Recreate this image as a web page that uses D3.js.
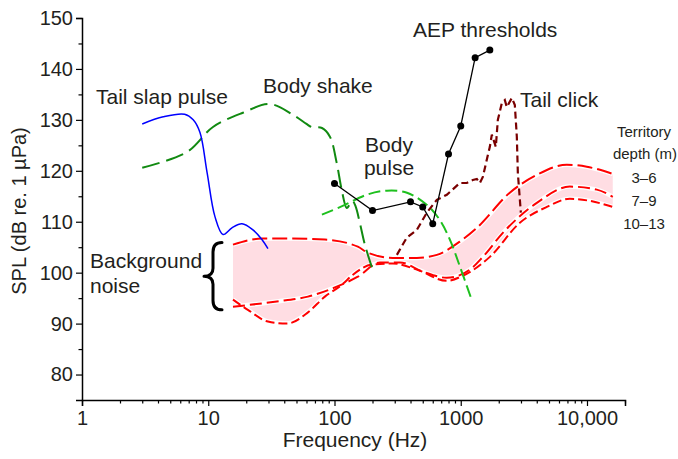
<!DOCTYPE html>
<html><head><meta charset="utf-8">
<script src="https://cdn.jsdelivr.net/npm/d3@7"></script>
<style>
body{margin:0;background:#fff}
svg{display:block}
text{font-family:"Liberation Sans",Arial,Helvetica,sans-serif;fill:#231f20}
</style></head>
<body><svg id="c" width="678" height="459"></svg>
<script>
// ---------- data ----------
const xMajor = [1, 10, 100, 1000, 10000];
const xMajorLabels = ["1", "10", "100", "1000", "10,000"];
const yMajor = [80, 90, 100, 110, 120, 130, 140, 150];

const tailSlap = [[3,129.2],[4.4,130.6],[6.5,131.1],[7.6,130.0],[8.6,127.5],[9.8,119.6],[11.3,111.0],[13.1,107.5],[15.4,108.8],[18.5,109.6],[22.6,108.4],[26.6,106.5],[29.7,104.7]];
const bodyShake = [[3,120.6],[6.8,123.7],[10.9,128.6],[18.8,131.4],[30.7,133.1],[46.9,131.0],[60,129.2],[66,128.6],[79.6,128.4],[92,126.7],[104,121.6],[114,116.3],[125,112.7],[132,113.4],[139,114.1],[147,113.0],[158,110.0],[174,105.5],[198,101.0]];
const bodyPulse = [[79.5,111.4],[116,113.1],[180,115.3],[260,116.1],[375,115.7],[540,113.3],[680,110.4],[820,106.5],[985,101.2],[1220,94.7]];
const tailClick = [[312,103.5],[374,106.9],[449,108.4],[539,111.8],[647,114.3],[776,115.3],[983,117.6],[1117,117.6],[1247,118.2],[1341,118.4],[1416,117.6],[1496,118.8],[1640,123.1],[1700,124.7],[1763,127.1],[1896,124.7],[1967,130.0],[2115,133.3],[2234,133.9],[2317,132.5],[2540,134.3],[2682,132.9],[2781,126.7],[2833,119.6],[2992,111.8]];
const aepFreq = [100, 200, 400, 500, 600, 800, 1000, 1300, 1700];
const aepSPL = [117.5, 112.2, 113.9, 112.9, 109.6, 123.3, 128.8, 142.2, 143.7];

const noise3to6 = [[15.7,105.5],[26.6,106.7],[46,106.7],[83.9,106.5],[153,105.1],[184,103.9],[290,102.9],[449,102.9],[647,103.5],[983,106.1],[1341,108.8],[2447,115.7],[4004,119.2],[6921,121.2],[9963,120.8],[16000,119.4]];
const noise7to9 = [[15.7,93.3],[33.7,94.3],[61.6,95.3],[100.7,97.1],[153,99.2],[229,102.0],[330,102.0],[501,100.2],[776,99.0],[1180,100.6],[1496,103.1],[2154,107.8],[4004,113.7],[7309,116.9],[11957,116.3],[16000,114.9]];
const noise10to13 = [[15.7,94.7],[20.6,92.7],[29.7,90.4],[42,90.0],[61.6,92.2],[83.9,95.3],[114,97.6],[140,99.6],[198,101.6],[290,101.8],[449,100.6],[776,98.4],[1039,99.4],[1700,103.1],[2938,109.8],[4805,112.9],[7309,114.5],[10525,114.1],[16000,112.9]];
const depthLabels = ["3\u20136", "7\u20139", "10\u201313"];

// ---------- scales ----------
const svg = d3.select("#c");
const x = d3.scaleLog().domain([1, 20000]).range([82, 625]);
const y = d3.scaleLinear().domain([75, 150]).range([400, 18]);

// ---------- noise band ----------
function interp(curve, f) {
  const lf = Math.log10(f);
  for (let i = 0; i < curve.length - 1; i++) {
    const a = Math.log10(curve[i][0]), b = Math.log10(curve[i+1][0]);
    if (lf >= a && lf <= b) {
      const t = (lf - a) / (b - a);
      return curve[i][1] + t * (curve[i+1][1] - curve[i][1]);
    }
  }
  return lf < Math.log10(curve[0][0]) ? curve[0][1] : curve[curve.length-1][1];
}
const curves = [noise3to6, noise7to9, noise10to13];
const fs = d3.range(0, 301).map(i => Math.pow(10, Math.log10(15.7) + i/300 * (Math.log10(16000) - Math.log10(15.7))));
const band = fs.map(f => {
  const v = curves.map(c => interp(c, f));
  return {f, lo: d3.min(v), hi: d3.max(v)};
});
svg.append("path").datum(band)
  .attr("d", d3.area().x(d => x(d.f)).y0(d => y(d.lo)).y1(d => y(d.hi)).curve(d3.curveMonotoneX))
  .attr("fill", "#ffdde3");

const line = d3.line().x(d => x(d[0])).y(d => y(d[1])).curve(d3.curveMonotoneX);
const smooth = d3.line().x(d => x(d[0])).y(d => y(d[1])).curve(d3.curveCatmullRom.alpha(0.5));

const dashes = ["15,5", "12,5", "9,4"];
curves.forEach((c, i) => {
  svg.append("path").datum(c).attr("d", line).attr("fill", "none")
    .attr("stroke", "#fff").attr("stroke-width", 4.5);
});
curves.forEach((c, i) => {
  svg.append("path").datum(c).attr("d", line).attr("fill", "none")
    .attr("stroke", "#ff0000").attr("stroke-width", 2).attr("stroke-dasharray", dashes[i]);
});

// ---------- other series ----------
svg.append("path").datum(bodyShake).attr("d", smooth).attr("fill", "none")
  .attr("stroke", "#118a11").attr("stroke-width", 2).attr("stroke-dasharray", "18,7");
svg.append("path").datum(bodyPulse).attr("d", smooth).attr("fill", "none")
  .attr("stroke", "#1ec01e").attr("stroke-width", 2).attr("stroke-dasharray", "12,5");
svg.append("path").datum(tailSlap).attr("d", smooth).attr("fill", "none")
  .attr("stroke", "#0000ff").attr("stroke-width", 1.5);
svg.append("path").datum(tailClick).attr("d", d3.line().x(d => x(d[0])).y(d => y(d[1]))).attr("fill", "none")
  .attr("stroke", "#7a0000").attr("stroke-width", 2.2).attr("stroke-dasharray", "7,4");

const aep = aepFreq.map((f, i) => [f, aepSPL[i]]);
svg.append("path").datum(aep).attr("d", d3.line().x(d => x(d[0])).y(d => y(d[1]))).attr("fill", "none")
  .attr("stroke", "#000").attr("stroke-width", 1.3);
svg.selectAll("circle.aep").data(aep).enter().append("circle")
  .attr("cx", d => x(d[0])).attr("cy", d => y(d[1])).attr("r", 3.5).attr("fill", "#000");

// ---------- axes ----------
const xTicks = [];
xMajor.forEach(d => { for (let m = 1; m <= 9; m++) { if (m*d <= 20000) xTicks.push(m*d); } });
const gx = svg.append("g").attr("transform", "translate(0,400)")
  .call(d3.axisBottom(x).tickValues(xTicks).tickSizeOuter(0).tickSize(6).tickPadding(5)
    .tickFormat(v => { const i = xMajor.indexOf(v); return i >= 0 ? xMajorLabels[i] : ""; }));
gx.selectAll(".tick line").attr("y2", v => xMajor.indexOf(v) >= 0 ? 6 : 3.5).attr("stroke-width", 1.2);

const yTicks = d3.range(80, 151, 5);
const gy = svg.append("g").attr("transform", "translate(82,0)")
  .call(d3.axisLeft(y).tickValues(yTicks).tickSizeOuter(0).tickSize(6).tickPadding(3)
    .tickFormat(v => yMajor.indexOf(v) >= 0 ? String(v) : ""));
gy.selectAll(".tick line").attr("x2", v => yMajor.indexOf(v) >= 0 ? -6 : -3.5).attr("stroke-width", 1.2);

[gx, gy].forEach(g => {
  g.select(".domain").attr("stroke-width", 1.5);
  g.selectAll("text").attr("font-size", 20).attr("font-family", '"Liberation Sans",Arial,sans-serif').attr("fill", "#231f20");
});

svg.append("text").attr("x", 355).attr("y", 447).attr("text-anchor", "middle")
  .attr("font-size", 21).text("Frequency (Hz)");
svg.append("text").attr("transform", "translate(26,211) rotate(-90)").attr("text-anchor", "middle")
  .attr("font-size", 20).text("SPL (dB re. 1 \u00b5Pa)");

// ---------- annotations ----------
const ann = (t, xx, yy, anchor) => svg.append("text").attr("x", xx).attr("y", yy)
  .attr("font-size", 21).attr("text-anchor", anchor || "start").text(t);
ann("Tail slap pulse", 96, 104);
ann("Body shake", 263, 93);
ann("AEP thresholds", 413, 37);
ann("Tail click", 520, 107);
ann("Body", 389, 152, "middle");
ann("pulse", 389, 175, "middle");
ann("Background", 90, 268);
ann("noise", 90, 293);

// brace
const bTop = y(105.9), bBot = y(92.7), bMid = (bTop + bBot) / 2, h = bBot - bTop;
const xr = 222, xm = 213, xl = 204;
const bp = d3.path();
bp.moveTo(xr, bTop);
bp.quadraticCurveTo(xm, bTop, xm, bTop + h*0.14);
bp.lineTo(xm, bMid - h*0.12);
bp.quadraticCurveTo(xm, bMid, xl, bMid);
bp.quadraticCurveTo(xm, bMid, xm, bMid + h*0.12);
bp.lineTo(xm, bBot - h*0.14);
bp.quadraticCurveTo(xm, bBot, xr, bBot);
svg.append("path").attr("d", bp.toString()).attr("fill", "none").attr("stroke", "#000")
  .attr("stroke-width", 3).attr("stroke-linecap", "round").attr("stroke-linejoin", "round");

// legend text
svg.append("text").attr("x", 644).attr("y", 137).attr("text-anchor", "middle").attr("font-size", 15).text("Territory");
svg.append("text").attr("x", 645).attr("y", 159).attr("text-anchor", "middle").attr("font-size", 15).text("depth (m)");
depthLabels.forEach((t, i) => {
  svg.append("text").attr("x", 644).attr("y", [183, 206, 229][i]).attr("text-anchor", "middle")
    .attr("font-size", 15).text(t);
});
</script></body></html>
